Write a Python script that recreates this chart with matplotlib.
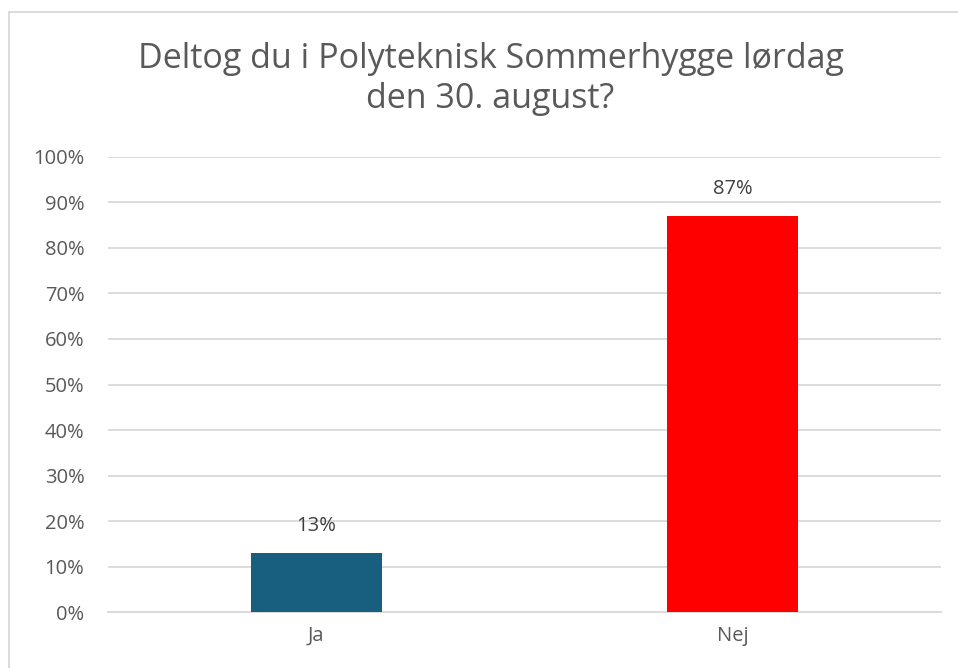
import matplotlib.pyplot as plt
from matplotlib.lines import Line2D
from matplotlib.ticker import PercentFormatter

# data
categories = ['Ja', 'Nej']
values = [13, 87]
colors = ['#175E7F', '#FF0000']
title = 'Deltog du i Polyteknisk Sommerhygge lørdag\nden 30. august?'

plt.rcParams['font.family'] = ['Open Sans', 'DejaVu Sans']
gray = '#595959'

fig = plt.figure(figsize=(9.58, 6.68), dpi=100)
ax = fig.add_axes([0.1127, 0.0838, 0.8696, 0.6812])

x = range(len(categories))
bars = ax.bar(x, values, width=0.315, color=colors, zorder=3)
for b, v in zip(bars, values):
    ax.annotate(f'{v}%', (b.get_x() + b.get_width() / 2, v), xytext=(0, 12),
                textcoords='offset points', ha='center', va='bottom',
                fontsize=14.5, color='#404040')

ax.set_xlim(-0.5, 1.5)
ax.set_ylim(0, 100)
ax.set_yticks(range(0, 101, 10))
ax.yaxis.set_major_formatter(PercentFormatter(decimals=0))
ax.set_xticks(list(x))
ax.set_xticklabels(categories)
ax.tick_params(axis='both', length=0, labelsize=14.5, labelcolor=gray)
ax.tick_params(axis='y', pad=17)
ax.tick_params(axis='x', pad=10)
ax.grid(axis='y', color='#D9D9D9', linewidth=1.3, zorder=0)
for s in ['top', 'right', 'left']:
    ax.spines[s].set_visible(False)
ax.spines['bottom'].set_color('#D9D9D9')
ax.spines['bottom'].set_linewidth(1.3)

fig.text(0.512, 0.882, title, ha='center', va='center', fontsize=24.5,
         color=gray, linespacing=1.25)

# chart border
fig.add_artist(Line2D([0.0099, 0.0099], [0, 0.982], color='#D9D9D9', lw=1.3))
fig.add_artist(Line2D([0.0099, 1], [0.982, 0.982], color='#D9D9D9', lw=1.3))

fig.savefig('out.png', dpi=100)
